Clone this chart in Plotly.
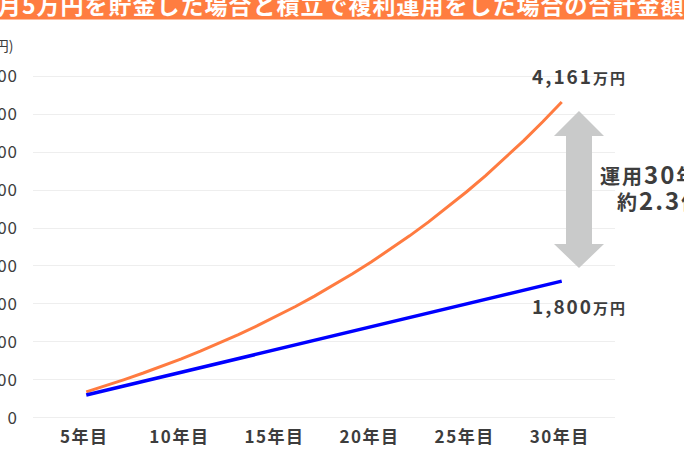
import plotly.graph_objects as go

# 年数（5年目〜30年目）
years = list(range(5, 31))

# 貯金のみ（万円）
savings = [300, 360, 420, 480, 540, 600, 660, 720, 780, 840, 900, 960, 1020,
           1080, 1140, 1200, 1260, 1320, 1380, 1440, 1500, 1560, 1620, 1680, 1740, 1800]

# 積立で複利運用（万円）
compound = [340, 419, 502, 589, 680, 776, 878, 984, 1096, 1213, 1336, 1466, 1603,
            1746, 1897, 2055, 2222, 2397, 2581, 2774, 2978, 3191, 3416, 3652, 3900, 4161]

x_tickvals = [5, 10, 15, 20, 25, 30]
x_ticktext = ["5年目", "10年目", "15年目", "20年目", "25年目", "30年目"]
y_tickvals = [0, 500, 1000, 1500, 2000, 2500, 3000, 3500, 4000, 4500]
y_ticktext = ["0", "500", "1,000", "1,500", "2,000", "2,500", "3,000", "3,500", "4,000", "4,500"]

W, H = 684, 456
ML, MR, MT, MB = 33, 69, 74, 36
FONT = "Noto Sans CJK JP"
TEXT = "#3d3d3d"
ORANGE = "#FF7B40"


def px(x):
    return (x - ML) / (W - ML - MR)


def py(y):
    return (H - MB - y) / (H - MT - MB)


def spaced(s, ls):
    return f"<span style='letter-spacing:{ls}px'>{s}</span>"


def big(s, size):
    return f"<span style='font-size:{size}px'>{s}</span>"


fig = go.Figure()
fig.add_trace(go.Scatter(x=years, y=compound, mode="lines",
                         line=dict(color=ORANGE, width=3), hoverinfo="skip"))
fig.add_trace(go.Scatter(x=years, y=savings, mode="lines",
                         line=dict(color="#0000FF", width=3.5), hoverinfo="skip"))

# タイトル帯
fig.add_shape(type="rect", xref="paper", yref="paper",
              x0=px(-10), x1=px(W + 10), y0=py(19.5), y1=py(-30),
              fillcolor="#FF7D40", line_width=0, layer="above")
fig.add_annotation(xref="paper", yref="paper", x=px(329), y=py(4),
                   text="<b>" + spaced("毎月5万円を貯金した場合と積立で複利運用をした場合の合計金額", 1) + "</b>",
                   showarrow=False, xanchor="center", yanchor="middle",
                   font=dict(family=FONT, size=23, color="white"))

# 単位
fig.add_annotation(xref="paper", yref="paper", x=px(15), y=py(45),
                   text="(万円)", showarrow=False, xanchor="right", yanchor="middle",
                   font=dict(family=FONT, size=14, color=TEXT))

# 矢印（グレー）
cx, top, hb1, hb2, bot, hw, sw = 579, 111, 136, 244, 268, 25, 13
pts = [(cx, top), (cx + hw, hb1), (cx + sw, hb1), (cx + sw, hb2), (cx + hw, hb2),
       (cx, bot), (cx - hw, hb2), (cx - sw, hb2), (cx - sw, hb1), (cx - hw, hb1)]
path = "M " + " L ".join(f"{px(a):.5f},{py(b):.5f}" for a, b in pts) + " Z"
fig.add_shape(type="path", xref="paper", yref="paper", path=path,
              fillcolor="#C9CACA", line_width=0)

# 金額ラベル
for label, ycen in [("4,161", 75), ("1,800", 305)]:
    fig.add_annotation(xref="paper", yref="paper", x=px(579), y=py(ycen),
                       text="<b>" + spaced(big(label, 19) + "万円", 2) + "</b>",
                       showarrow=False, xanchor="center", yanchor="middle",
                       font=dict(family=FONT, size=15, color=TEXT))

line1 = spaced("運用" + big("30", 24) + "年で", 2)
line2 = spaced("約" + big("2.3", 24) + "倍", 2)
fig.add_annotation(xref="paper", yref="paper", x=px(660), y=py(186),
                   text="<b>" + line1 + "<br>" + line2 + "</b>",
                   showarrow=False, xanchor="center", yanchor="middle", align="center",
                   font=dict(family=FONT, size=20, color=TEXT))

fig.update_layout(
    width=W, height=H,
    margin=dict(l=ML, r=MR, t=MT, b=MB, autoexpand=False),
    paper_bgcolor="white", plot_bgcolor="white",
    showlegend=False,
    font=dict(family=FONT, color=TEXT),
)
fig.update_xaxes(range=[2.2, 32.8], tickvals=x_tickvals,
                 ticktext=[spaced(t, 1.5) for t in x_ticktext],
                 showgrid=False, zeroline=False, showline=False,
                 tickfont=dict(family=FONT, size=17, color=TEXT, weight="bold"),
                 ticklabelstandoff=5, ticklabelshift=-2, fixedrange=True)
fig.update_yaxes(range=[-30, 4530], tickvals=y_tickvals,
                 ticktext=[spaced(t, 1) for t in y_ticktext],
                 showgrid=True, gridcolor="#EEEEEE", gridwidth=1,
                 zeroline=False, showline=False,
                 tickfont=dict(family=FONT, size=17, color=TEXT),
                 ticklabelstandoff=14, fixedrange=True)

# ページ余白をなくす（左上の切れ方を合わせるため）
fig.write_html("out.html", config={"displayModeBar": False},
               post_script="document.body.style.margin='0';")
